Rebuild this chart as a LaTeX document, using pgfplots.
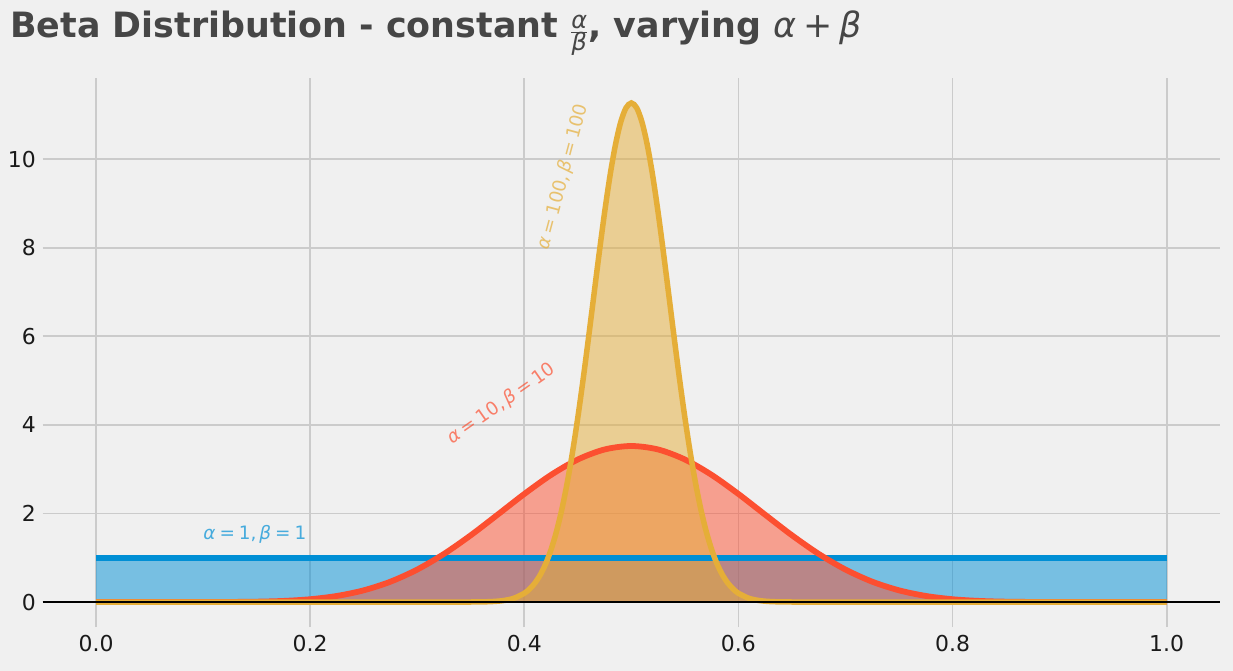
\documentclass[border=0pt]{standalone}
\usepackage{fontspec}
\setmainfont{DejaVu Sans}
\usepackage{pgfplots}
\pgfplotsset{compat=1.18}
\definecolor{bgc}{HTML}{F0F0F0}
\definecolor{gridc}{HTML}{CBCBCB}
\definecolor{bluec}{HTML}{008FD5}
\definecolor{redc}{HTML}{FC4F30}
\definecolor{yellowc}{HTML}{E5AE38}
\definecolor{titlec}{HTML}{464646}
\definecolor{tickc}{HTML}{1A1A1A}
\newcommand\lbl{\fontsize{18.5}{22}\selectfont}
\newcommand\eqs{\kern0.22em=\kern0.22em}
\begin{document}
\begin{tikzpicture}
\fill[bgc] (-42.5bp,-44bp) rectangle (1190.5bp,627bp);
\node[anchor=base west, inner sep=0pt, text=titlec, font=\fontsize{35}{40}\selectfont\bfseries] at (-32.5bp,589bp)
 {Beta Distribution - constant \(\frac{\hbox{\fontsize{24}{24}\selectfont\mdseries\itshape α}}{\hbox{\fontsize{24}{24}\selectfont\mdseries\itshape β}}\), varying {\mdseries\itshape α\kern0.2em+\kern0.2emβ}};
\begin{axis}[
  at={(0,0)}, anchor=south west, scale only axis,
  width=1177.7bp, height=549bp,
  xmin=-0.05, xmax=1.05, ymin=-0.5635, ymax=11.834,
  axis line style={draw=none}, major tick length=0pt,
  xtick={0,0.2,0.4,0.6,0.8,1}, ytick={0,2,4,6,8,10},
  grid=major, major grid style={line width=1.8bp, color=gridc},
  /pgf/number format/assume math mode=true,
  tick label style={font=\fontsize{22}{26}\selectfont, text=tickc},
  xticklabel style={/pgf/number format/fixed, /pgf/number format/fixed zerofill, /pgf/number format/precision=1, inner sep=0pt, anchor=north, yshift=-8bp},
  yticklabel style={inner sep=0pt, anchor=east, xshift=-6.5bp},
]
% fills
\addplot[draw=none, fill=bluec, fill opacity=0.5] coordinates {(0,1) (1,1)} \closedcycle;
\addplot[draw=none, fill=redc, fill opacity=0.5, smooth] coordinates {
(0,0) (0.05,0) (0.1,0.0004) (0.125,0.0021) (0.15,0.0082) (0.175,0.0252) (0.2,0.0635)
(0.225,0.1377) (0.25,0.2646) (0.275,0.4598) (0.3,0.7337) (0.325,1.0870) (0.35,1.5080)
(0.375,1.9713) (0.4,2.4404) (0.425,2.8712) (0.45,3.2192) (0.475,3.4454) (0.5,3.5239)
(0.525,3.4454) (0.55,3.2192) (0.575,2.8712) (0.6,2.4404) (0.625,1.9713) (0.65,1.5080)
(0.675,1.0870) (0.7,0.7337) (0.725,0.4598) (0.75,0.2646) (0.775,0.1377) (0.8,0.0635)
(0.825,0.0252) (0.85,0.0082) (0.875,0.0021) (0.9,0.0004) (0.95,0) (1,0)} \closedcycle;
\addplot[draw=none, fill=yellowc, fill opacity=0.5, smooth] coordinates {
(0,0) (0.3,0) (0.33,0.0001) (0.34,0.0003) (0.35,0.0010) (0.36,0.0035) (0.37,0.0110)
(0.38,0.0317) (0.39,0.0830) (0.4,0.1981) (0.405,0.2958) (0.41,0.4324) (0.415,0.6180)
(0.42,0.8648) (0.425,1.1847) (0.43,1.5879) (0.435,2.0849) (0.44,2.6808) (0.445,3.3767)
(0.45,4.1666) (0.455,5.0378) (0.46,5.9683) (0.465,6.9297) (0.47,7.8862) (0.475,8.7962)
(0.48,9.6175) (0.485,10.3085) (0.49,10.8320) (0.495,11.1590) (0.5,11.2697)
(0.505,11.1590) (0.51,10.8320) (0.515,10.3085) (0.52,9.6175) (0.525,8.7962) (0.53,7.8862)
(0.535,6.9297) (0.54,5.9683) (0.545,5.0378) (0.55,4.1666) (0.555,3.3767) (0.56,2.6808)
(0.565,2.0849) (0.57,1.5879) (0.575,1.1847) (0.58,0.8648) (0.585,0.6180) (0.59,0.4324)
(0.595,0.2958) (0.6,0.1981) (0.61,0.0830) (0.62,0.0317) (0.63,0.0110) (0.64,0.0035)
(0.65,0.0010) (0.66,0.0003) (0.67,0.0001) (0.7,0) (1,0)} \closedcycle;
% lines
\addplot[bluec, line width=5.5bp] coordinates {(0,1) (1,1)};
\addplot[redc, line width=5.8bp, smooth] coordinates {
(0,0) (0.05,0) (0.1,0.0004) (0.125,0.0021) (0.15,0.0082) (0.175,0.0252) (0.2,0.0635)
(0.225,0.1377) (0.25,0.2646) (0.275,0.4598) (0.3,0.7337) (0.325,1.0870) (0.35,1.5080)
(0.375,1.9713) (0.4,2.4404) (0.425,2.8712) (0.45,3.2192) (0.475,3.4454) (0.5,3.5239)
(0.525,3.4454) (0.55,3.2192) (0.575,2.8712) (0.6,2.4404) (0.625,1.9713) (0.65,1.5080)
(0.675,1.0870) (0.7,0.7337) (0.725,0.4598) (0.75,0.2646) (0.775,0.1377) (0.8,0.0635)
(0.825,0.0252) (0.85,0.0082) (0.875,0.0021) (0.9,0.0004) (0.95,0) (1,0)};
\addplot[yellowc, line width=5.5bp, smooth] coordinates {
(0,0) (0.3,0) (0.33,0.0001) (0.34,0.0003) (0.35,0.0010) (0.36,0.0035) (0.37,0.0110)
(0.38,0.0317) (0.39,0.0830) (0.4,0.1981) (0.405,0.2958) (0.41,0.4324) (0.415,0.6180)
(0.42,0.8648) (0.425,1.1847) (0.43,1.5879) (0.435,2.0849) (0.44,2.6808) (0.445,3.3767)
(0.45,4.1666) (0.455,5.0378) (0.46,5.9683) (0.465,6.9297) (0.47,7.8862) (0.475,8.7962)
(0.48,9.6175) (0.485,10.3085) (0.49,10.8320) (0.495,11.1590) (0.5,11.2697)
(0.505,11.1590) (0.51,10.8320) (0.515,10.3085) (0.52,9.6175) (0.525,8.7962) (0.53,7.8862)
(0.535,6.9297) (0.54,5.9683) (0.545,5.0378) (0.55,4.1666) (0.555,3.3767) (0.56,2.6808)
(0.565,2.0849) (0.57,1.5879) (0.575,1.1847) (0.58,0.8648) (0.585,0.6180) (0.59,0.4324)
(0.595,0.2958) (0.6,0.1981) (0.61,0.0830) (0.62,0.0317) (0.63,0.0110) (0.64,0.0035)
(0.65,0.0010) (0.66,0.0003) (0.67,0.0001) (0.7,0) (1,0)};
\addplot[black, line width=2.2bp] coordinates {(-0.05,0) (1.05,0)};
% annotations
\node[anchor=base west, inner sep=0pt, text=bluec, text opacity=0.7, font=\lbl] at (axis cs:0.1,1.42)
 {{\itshape α}\eqs1,\kern0.15em{\itshape β}\eqs1};
\node[anchor=base west, inner sep=0pt, text=redc, text opacity=0.7, font=\lbl, rotate=35] at (axis cs:0.333,3.55)
 {{\itshape α}\eqs10,\kern0.15em{\itshape β}\eqs10};
\node[anchor=base west, inner sep=0pt, text=yellowc, text opacity=0.7, font=\lbl, rotate=75] at (axis cs:0.423,7.93)
 {{\itshape α}\eqs100,\kern0.15em{\itshape β}\eqs100};
\end{axis}
\pgfresetboundingbox
\path (-42.5bp,-44bp) rectangle (1190.5bp,627bp);
\end{tikzpicture}
\end{document}
